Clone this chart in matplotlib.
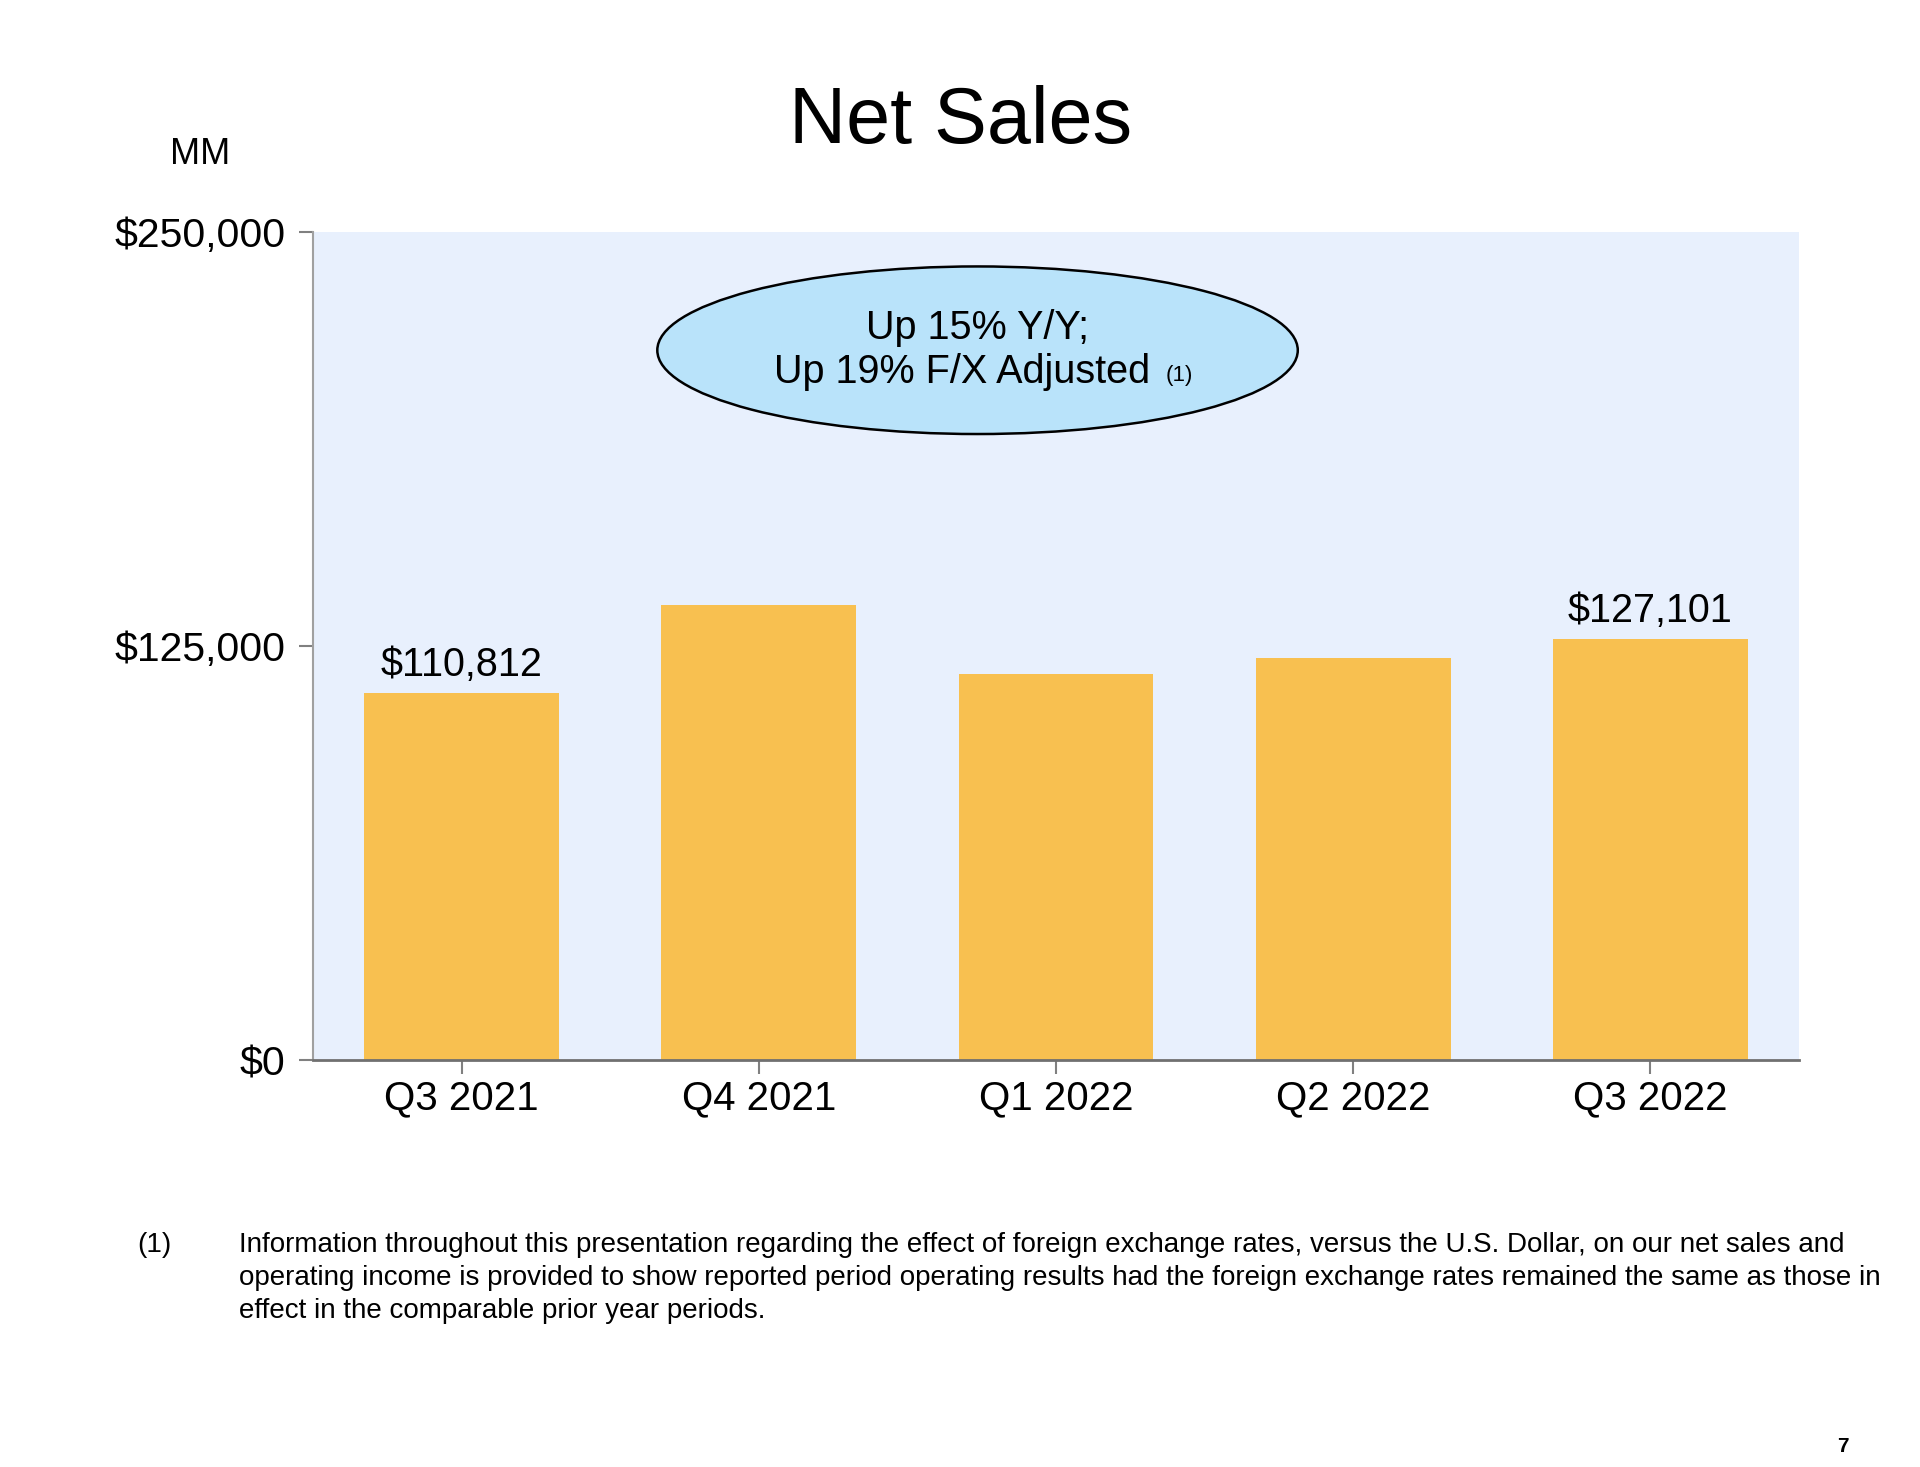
import matplotlib
matplotlib.use('Agg')
import matplotlib.pyplot as plt
from matplotlib.patches import Ellipse
from matplotlib.ticker import FuncFormatter

# data
quarters = ['Q3 2021', 'Q4 2021', 'Q1 2022', 'Q2 2022', 'Q3 2022']
net_sales = [110812, 137412, 116444, 121234, 127101]
labelled = [0, 4]  # only first and last bars carry value labels
y_ticks = [0, 125000, 250000]

title = 'Net Sales'
bubble_lines = ['Up 15% Y/Y;', 'Up 19% F/X Adjusted']
footnote_lines = [
    'Information throughout this presentation regarding the effect of foreign exchange rates, '
    'versus the U.S. Dollar, on our net sales and',
    'operating income is provided to show reported period operating results had the foreign '
    'exchange rates remained the same as those in',
    'effect in the comparable prior year periods.',
]

plt.rcParams['font.family'] = ['Liberation Sans', 'DejaVu Sans']

BAR = '#F8C050'
BG = '#E8F0FD'
BUBBLE = '#B9E3FA'
GREY = '#808080'

fig = plt.figure(figsize=(19.2, 14.67), dpi=100)
ax = fig.add_axes([313 / 1920, 1 - 1060 / 1467, 1486 / 1920, 828 / 1467])
ax.set_facecolor(BG)

x = range(len(quarters))
ax.bar(x, net_sales, width=0.655, color=BAR, zorder=2)
ax.set_xlim(-0.5, len(quarters) - 0.5)
ax.set_ylim(0, 250000)

ax.set_yticks(y_ticks)
ax.yaxis.set_major_formatter(FuncFormatter(lambda v, p: '${:,.0f}'.format(v)))
ax.set_xticks(list(x))
ax.set_xticklabels(quarters)
ax.tick_params(axis='y', labelsize=29.5, length=10, width=1.5, color=GREY, pad=10)
ax.tick_params(axis='x', labelsize=29, length=10, width=1.5, color=GREY, pad=4)

for s in ['top', 'right']:
    ax.spines[s].set_visible(False)
ax.spines['left'].set_color('#A0A0A0')
ax.spines['left'].set_linewidth(1.5)
ax.spines['bottom'].set_color('#707070')
ax.spines['bottom'].set_linewidth(2)

for i in labelled:
    ax.text(i, net_sales[i] + 8400, '${:,}'.format(net_sales[i]), ha='center', va='center',
            fontsize=28.5, zorder=3)

# callout bubble
ell = Ellipse((1.736, 214300), 2.155, 50600, facecolor=BUBBLE, edgecolor='black', lw=1.8, zorder=3)
ax.add_patch(ell)
ax.text(1.736, 221000, bubble_lines[0], ha='center', va='center', fontsize=28.5, zorder=4)
ax.text(1.685, 207700, bubble_lines[1], ha='center', va='center', fontsize=28.5, zorder=4)
ax.text(2.37, 206600, '(1)', ha='left', va='center', fontsize=16, zorder=4)

fig.text(961 / 1920, 1 - 122 / 1467, title, ha='center', va='center', fontsize=57)
fig.text(200 / 1920, 1 - 155 / 1467, 'MM', ha='center', va='center', fontsize=26)

fig.text(137 / 1920, 1 - 1245 / 1467, '(1)', ha='left', va='center', fontsize=20)
for k, line in enumerate(footnote_lines):
    fig.text(239 / 1920, 1 - (1245 + 33 * k) / 1467, line, ha='left', va='center', fontsize=20)

fig.text(1843 / 1920, 1 - 1446 / 1467, '7', ha='center', va='center', fontsize=15, fontweight='bold')

plt.savefig('out.png', dpi=100)
